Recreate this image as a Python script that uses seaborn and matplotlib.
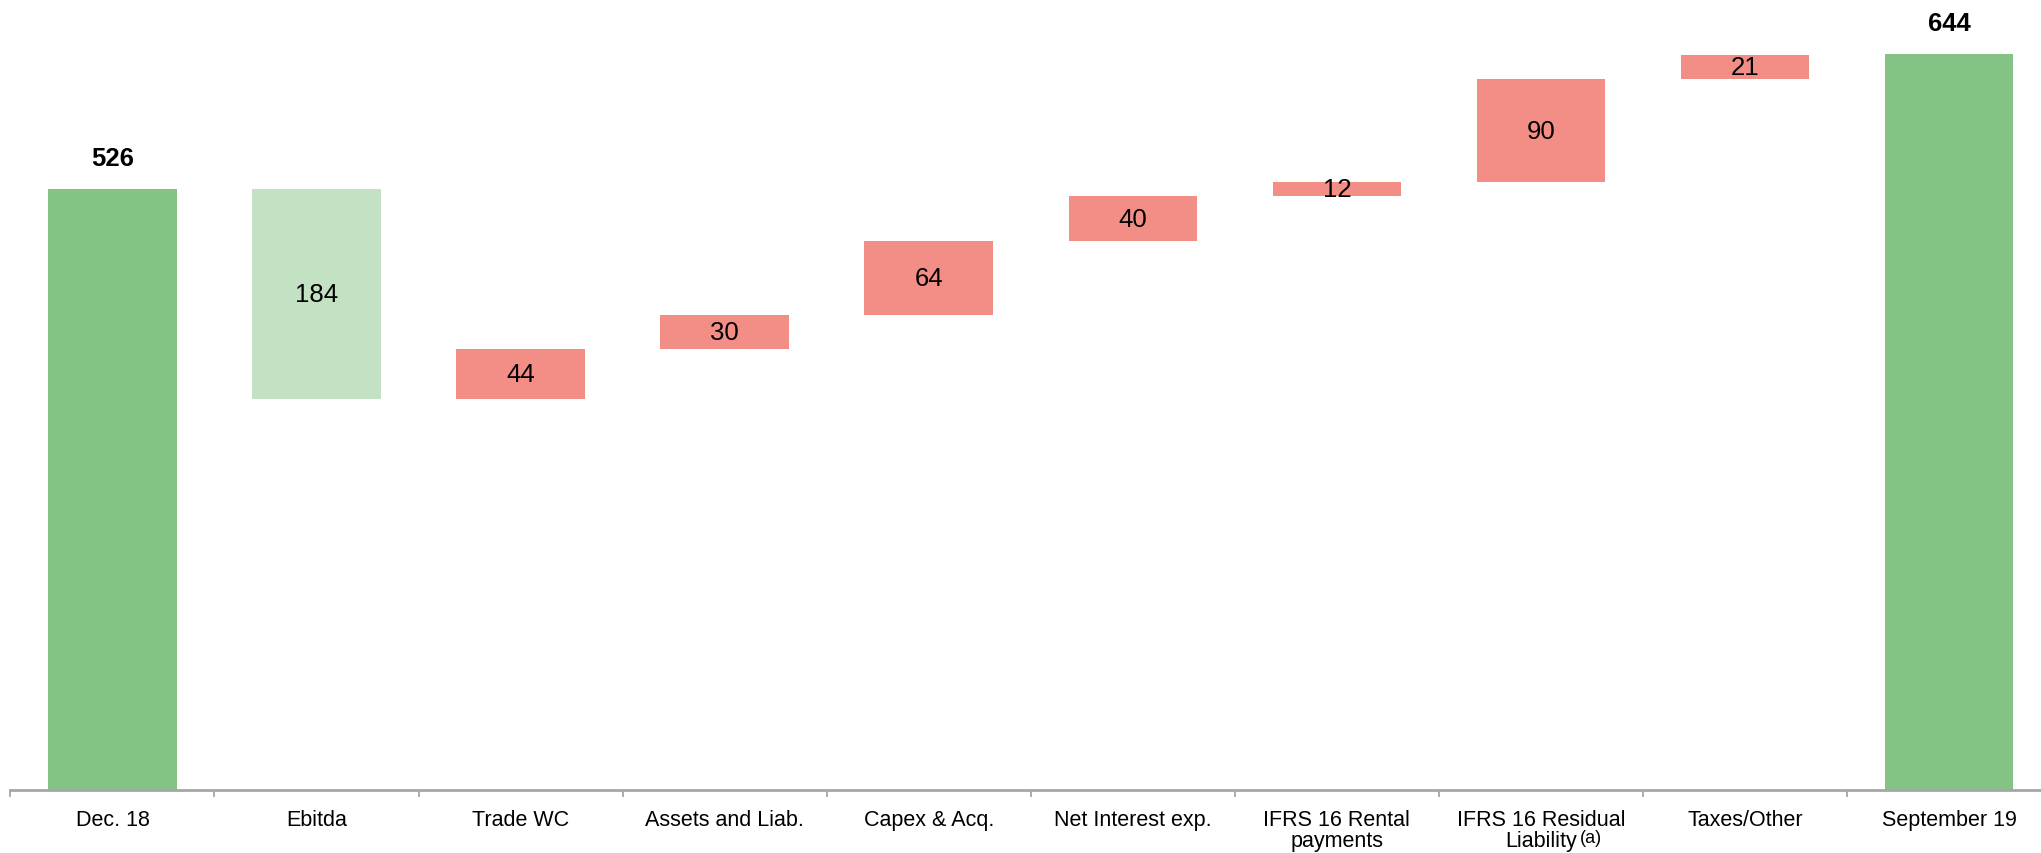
import matplotlib
matplotlib.use("Agg")
import matplotlib.pyplot as plt
import seaborn as sns
import numpy as np

# Net debt bridge: opening, movements, closing
categories = ["Dec. 18", "Ebitda", "Trade WC", "Assets and Liab.", "Capex & Acq.",
              "Net Interest exp.", "IFRS 16 Rental\npayments",
              "IFRS 16 Residual\nLiability", "Taxes/Other", "September 19"]
footnote_index = 7
footnote_mark = "(a)"
opening = 526
closing = 644
movements = [-184, 44, 30, 64, 40, 12, 90, 21]

GREEN = "#84C386"
LIGHT_GREEN = "#C3E2C3"
RED = "#F28E86"
AXIS_GREY = "#A6A6A6"

# Build floating bar bottoms and heights
bottoms = [0]
heights = [opening]
level = opening
for m in movements:
    if m < 0:
        bottoms.append(level + m)
        heights.append(-m)
    else:
        bottoms.append(level)
        heights.append(m)
    level += m
bottoms.append(0)
heights.append(closing)
colors = [GREEN, LIGHT_GREEN] + [RED] * (len(movements) - 1) + [GREEN]

sns.set_theme(style="white")
plt.rcParams["font.family"] = ["Liberation Sans", "DejaVu Sans"]

fig = plt.figure(figsize=(20.41, 8.54), dpi=100)
ax = fig.add_axes([0.0051, 0.0732, 0.9949, 0.9268])

sns.barplot(x=categories, y=heights, bottom=bottoms, order=categories,
            errorbar=None, width=0.63, ax=ax, linewidth=0, color=GREEN, saturation=1)
for patch, c in zip(ax.patches, colors):
    patch.set_facecolor(c)
    patch.set_edgecolor("none")

# Value labels
for i, (b, h) in enumerate(zip(bottoms, heights)):
    if i in (0, len(categories) - 1):
        ax.annotate(f"{h}", (i, b + h), xytext=(0, 22), textcoords="offset points",
                    ha="center", va="center", fontsize=18.5, fontweight="bold", color="black")
    else:
        ax.text(i, b + h / 2, f"{abs(movements[i - 1])}", ha="center", va="center",
                fontsize=18.5, color="black")

ax.set_xlim(-0.5, 9.45)
ax.set_ylim(0, 692)
ax.set_yticks([])
ax.set_ylabel("")

# Category labels at centres, ticks on the boundaries between categories
ax.set_xticks(np.arange(len(categories)))
ax.set_xticklabels(categories, fontsize=15.5, linespacing=1.05, va="top")
ax.tick_params(axis="x", which="major", length=0, pad=13, colors="black")
ax.set_xticks(np.arange(len(categories)) - 0.5, minor=True)
ax.tick_params(axis="x", which="minor", bottom=True, length=5, width=1.3,
               color=AXIS_GREY, direction="out")

# Footnote marker after "Liability"
ax.annotate(footnote_mark, xy=(footnote_index, 0), xycoords=("data", "axes fraction"),
            xytext=(28, -34), textcoords="offset points", ha="left", va="center",
            fontsize=13, color="black")

for side in ["top", "right", "left"]:
    ax.spines[side].set_visible(False)
ax.spines["bottom"].set_color(AXIS_GREY)
ax.spines["bottom"].set_linewidth(2)

fig.savefig("out.png", dpi=100, facecolor="white")
